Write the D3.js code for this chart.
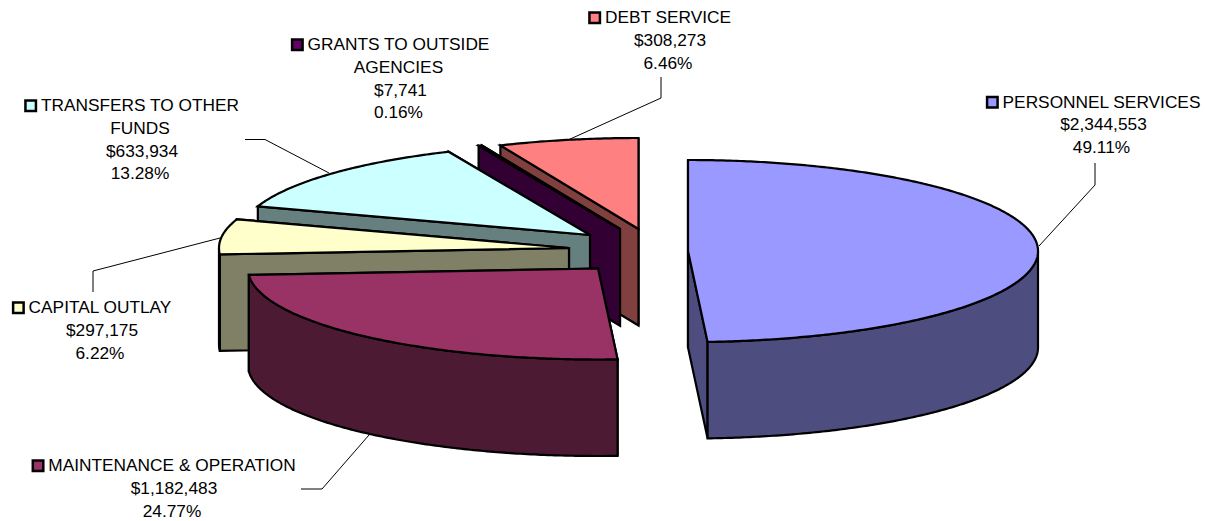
<!DOCTYPE html>
<html>
<head>
<meta charset="utf-8">
<script src="https://cdn.jsdelivr.net/npm/d3@7"></script>
<style>
  html, body { margin: 0; padding: 0; background: #fff; }
  text { font-family: "Liberation Sans", Arial, sans-serif; font-size: 17.3px; fill: #000; }
</style>
</head>
<body>
<div id="chart"></div>
<script>
  const w = 1205;
  const h = 521;

  //data, clockwise from 12 o'clock
  const categories = ['PERSONNEL SERVICES', 'MAINTENANCE & OPERATION', 'CAPITAL OUTLAY',
    'TRANSFERS TO OTHER FUNDS', 'GRANTS TO OUTSIDE AGENCIES', 'DEBT SERVICE'];
  const nameLines = [['PERSONNEL SERVICES'], ['MAINTENANCE & OPERATION'], ['CAPITAL OUTLAY'],
    ['TRANSFERS TO OTHER', 'FUNDS'], ['GRANTS TO OUTSIDE', 'AGENCIES'], ['DEBT SERVICE']];
  const amounts = [2344553, 1182483, 297175, 633934, 7741, 308273];

  //colors
  const topColors = ['#9999ff', '#993366', '#ffffcc', '#ccffff', '#660066', '#ff8080'];
  const sideColors = ['#4d4d80', '#4d1a33', '#808066', '#668080', '#330033', '#804040'];

  //pie layout, every slice is pulled out by its own amount
  const pieX = 640;
  const pieY = 250;
  const rx = 350;
  const ry = 91;
  const depth = 96.5;
  const explodeX = [48, -42, -71, -50, -20, -1.5];
  const explodeY = [1, 18.5, -2, -15, -21, -21];

  //label layout
  const labelX = [1101.5, 172, 100, 140, 398.5, 668];
  const labelY = [107.5, 471, 313, 111, 50, 23];
  const lineGap = 22.8;
  const leaders = [
    [[1095, 163], [1095, 185], [1039, 246]],
    [[301, 489], [322, 489], [369, 435]],
    [[93, 292], [93, 271], [220, 238]],
    [[245, 139.5], [265, 139.5], [329, 173]],
    null,
    [[661, 77], [661, 98], [568, 140]]
  ];

  const svg = d3.select('#chart').append('svg')
    .attr('width', w)
    .attr('height', h)
    .style('display', 'block');

  const x = d3.scaleLinear().domain([-1, 1]).range([-rx, rx]);
  const y = d3.scaleLinear().domain([-1, 1]).range([-ry, ry]);
  const line = d3.line();

  const slices = d3.pie().sort(null).startAngle(0).endAngle(2 * Math.PI)(amounts);
  const percent = d3.format('.2%');
  const money = d3.format('$,');
  const total = d3.sum(amounts);

  function rim(a) {
    return [x(Math.sin(a)), y(-Math.cos(a))];
  }
  function arcPoints(a0, a1) {
    const n = Math.max(2, Math.ceil((a1 - a0) / 0.01));
    return d3.range(n + 1).map(i => rim(a0 + (a1 - a0) * i / n));
  }
  function down(p) {
    return [p[0], p[1] + depth];
  }
  function cutFace(a) {
    const c = [x(0), y(0)];
    const r = rim(a);
    return [c, r, down(r), down(c)];
  }

  //back slices first, the personnel slice stands apart on the right
  const drawOrder = [5, 4, 3, 2, 1, 0];

  drawOrder.forEach(function(i) {
    const s = slices[i];
    const g = svg.append('g')
      .attr('transform', 'translate(' + (pieX + explodeX[i]) + ',' + (pieY + explodeY[i]) + ')')
      .attr('stroke', '#000')
      .attr('stroke-width', 2.2);

    //cut faces, the one further back goes first
    const faces = [s.startAngle, s.endAngle]
      .sort((a, b) => rim(a)[1] - rim(b)[1])
      .map(cutFace);
    faces.forEach(function(f) {
      g.append('path')
        .attr('d', line(f) + 'Z')
        .attr('fill', sideColors[i]);
    });

    //outer wall, only the front half of the rim can be seen
    const a0 = Math.max(s.startAngle, Math.PI / 2);
    const a1 = Math.min(s.endAngle, Math.PI * 1.5);
    if (a1 > a0) {
      const edge = arcPoints(a0, a1);
      g.append('path')
        .attr('d', line(edge.concat(edge.map(down).reverse())) + 'Z')
        .attr('fill', sideColors[i]);
    }

    //top
    g.append('path')
      .attr('d', line([[x(0), y(0)]].concat(arcPoints(s.startAngle, s.endAngle))) + 'Z')
      .attr('fill', topColors[i]);
  });

  //leader lines
  leaders.forEach(function(pts) {
    if (!pts) return;
    svg.append('path')
      .attr('d', line(pts))
      .attr('fill', 'none')
      .attr('stroke', '#000')
      .attr('stroke-width', 1);
  });

  //labels, centered block with the key in front of the first line
  categories.forEach(function(name, i) {
    const lines = nameLines[i].concat([money(amounts[i]), percent(amounts[i] / total)]);
    const g = svg.append('g').attr('class', 'label');
    let first;
    lines.forEach(function(t, j) {
      const txt = g.append('text')
        .attr('x', labelX[i] + (t[0] == '$' ? 2 : 0))
        .attr('y', labelY[i] + j * lineGap)
        .attr('text-anchor', 'middle')
        .text(t);
      if (j == 0) first = txt;
    });
    const len = first.node().getComputedTextLength();
    g.append('rect')
      .attr('x', labelX[i] - len / 2 - 15.5)
      .attr('y', labelY[i] - 10.5)
      .attr('width', 10.5)
      .attr('height', 10.5)
      .attr('fill', topColors[i])
      .attr('stroke', '#000')
      .attr('stroke-width', 2.5);
  });
</script>
</body>
</html>
